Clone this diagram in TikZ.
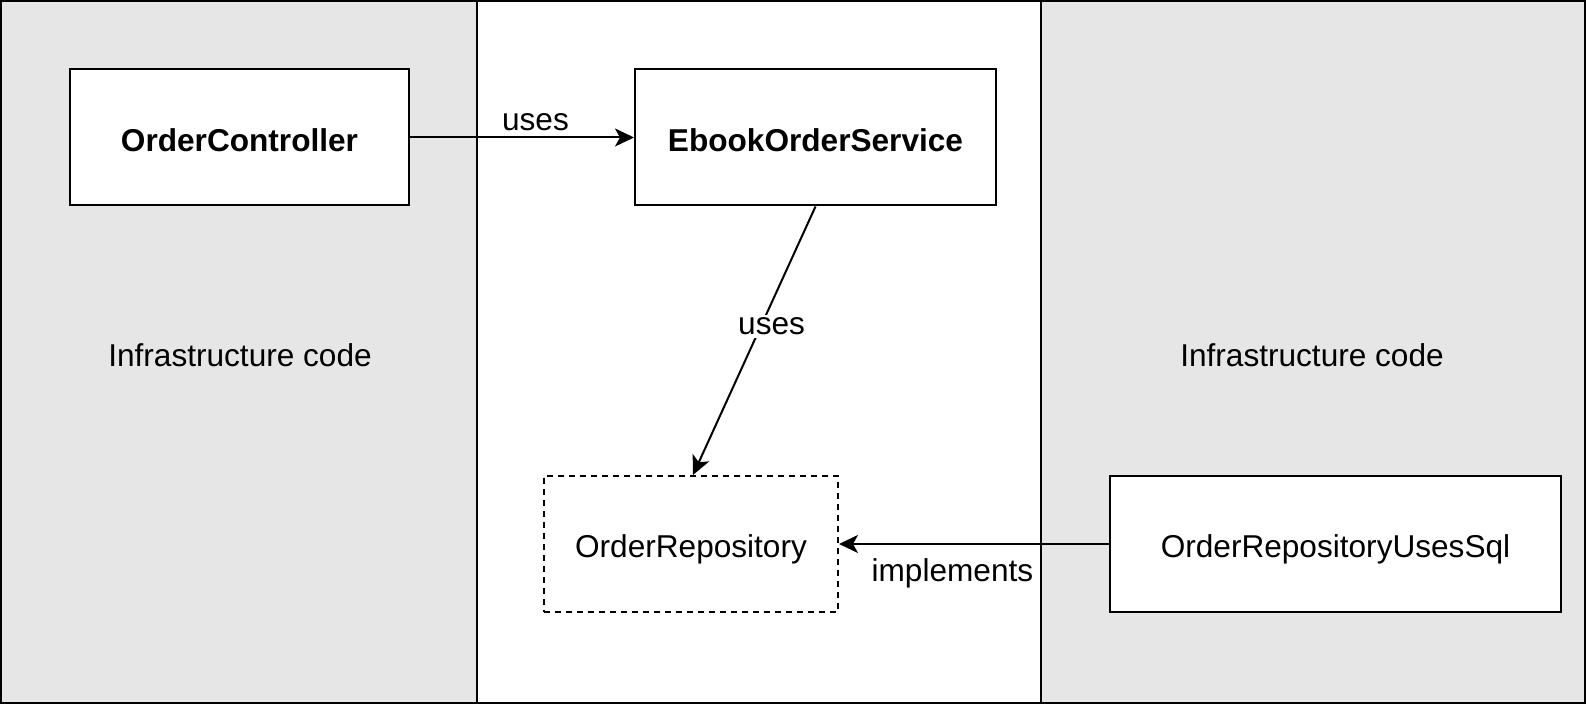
\documentclass[tikz,border=0pt]{standalone}
\usepackage{fontspec}
\setmainfont{Liberation Sans}
\usetikzlibrary{arrows.meta}
\definecolor{panelgray}{HTML}{E6E6E6}
\tikzset{
  panel/.style={draw=black, line width=1pt, fill=panelgray},
  whitepanel/.style={draw=black, line width=1pt, fill=white},
  box/.style={draw=black, line width=1pt, fill=white, rectangle, minimum height=68pt, inner sep=0pt, align=center, text height=14pt, text depth=0pt},
  dashbox/.style={box, dash pattern=on 3pt off 2.5pt},
  conn/.style={line width=1pt, -{Stealth[length=9.5pt, width=9pt, inset=2.5pt]}},
  lbl/.style={inner sep=1.5pt},
}
\begin{document}
\begin{tikzpicture}[x=0.5pt, y=-0.5pt, font=\fontsize{15.8}{19}\selectfont]
\useasboundingbox (0,0) rectangle (1586,704);
% panels
\draw[panel] (1,1) rectangle (477,703);
\draw[whitepanel] (477,1) rectangle (1041,703);
\draw[panel] (1041,1) rectangle (1585,703);
\node (infraL) at (240,355) {Infrastructure code};
\node (infraR) at (1312,355) {Infrastructure code};
% boxes
\node[box, minimum width=169.5pt] (ctrl) at (239.5,137.5) {\textbf{OrderController}};
\node[box, minimum width=180.5pt] (ebook) at (815.5,137.5) {\textbf{EbookOrderService}};
\node[dashbox, minimum width=147pt] (repo) at (691,544) {OrderRepository};
\node[box, minimum width=225.5pt] (sql) at (1335.5,544) {OrderRepositoryUsesSql};
% connectors
\draw[conn] (ctrl.east) -- node[pos=0.56, lbl, yshift=7.5pt] {uses} (ebook.west);
\draw[conn] (ebook.south) -- node[pos=0.44, lbl, fill=white, xshift=5pt, yshift=-1pt] {uses} ([xshift=1pt]repo.north);
\draw[conn] (sql.west) -- node[pos=0.58, lbl, yshift=-14.5pt] {implements} (repo.east);
\end{tikzpicture}
\end{document}
